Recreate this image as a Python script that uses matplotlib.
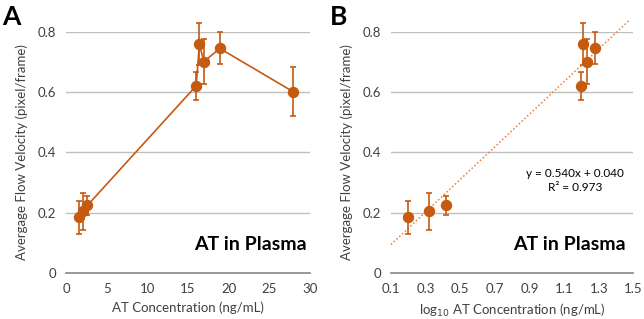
import numpy as np
import matplotlib
matplotlib.use('Agg')
import matplotlib.pyplot as plt

# Data
conc = [1.58, 2.07, 2.63, 16.0, 16.4, 16.95, 18.9, 27.9]
velocity = [0.185, 0.204, 0.224, 0.620, 0.758, 0.700, 0.744, 0.601]
err = [0.055, 0.060, 0.032, 0.047, 0.070, 0.075, 0.053, 0.080]

# panel B uses the first seven points on a log scale
log_conc = [0.20, 0.32, 0.42, 1.20, 1.21, 1.23, 1.28]
log_vel = velocity[:7]
log_err = err[:7]
slope, intercept, r2 = 0.540, 0.040, 0.973

orange = '#C55A11'
trend_color = '#ED7D31'
grid_color = '#BFBFBF'
text_color = '#404040'

plt.rcParams['font.family'] = ['Lato', 'DejaVu Sans']

fig = plt.figure(figsize=(6.44, 3.19), dpi=100)
axA = fig.add_axes([0.1025, 0.1442, 0.3789, 0.757])
axB = fig.add_axes([0.6071, 0.1442, 0.3763, 0.757])


def style_axes(ax, xticks, xlim, xlabel):
    ax.set_ylim(0, 0.8)
    ax.set_xlim(*xlim)
    ax.set_yticks([0, 0.2, 0.4, 0.6, 0.8])
    ax.set_yticklabels(['0', '0.2', '0.4', '0.6', '0.8'])
    ax.set_xticks(xticks)
    for s in ['top', 'right', 'left']:
        ax.spines[s].set_visible(False)
    ax.spines['bottom'].set_color('#868686')
    ax.spines['bottom'].set_linewidth(1.2)
    ax.tick_params(length=0, labelsize=9.5, colors=text_color, pad=7)
    for y in [0.2, 0.4, 0.6, 0.8]:
        ax.axhline(y, color=grid_color, lw=1, zorder=0)
    ax.set_ylabel('Avergage Flow Velocity (pixel/frame)', fontsize=9.5,
                  color=text_color, labelpad=7)
    ax.set_xlabel(xlabel, fontsize=9.5, color=text_color, labelpad=5)


# Panel A
style_axes(axA, [0, 5, 10, 15, 20, 25, 30], (0, 30), 'AT Concentration (ng/mL)')
axA.plot(conc, velocity, color=orange, lw=1.2, zorder=2, clip_on=False)
axA.errorbar(conc, velocity, yerr=err, fmt='o', color=orange, ms=7.2,
             ecolor=orange, elinewidth=1.2, capsize=2.5, capthick=1.2,
             zorder=3, clip_on=False)
axA.text(0.985, 0.12, 'AT in Plasma', transform=axA.transAxes, ha='right',
         va='center', fontsize=14, fontweight='bold', color='black')

# Panel B
style_axes(axB, [0.1, 0.3, 0.5, 0.7, 0.9, 1.1, 1.3, 1.5], (0.1, 1.5),
           'log$_{10}$ AT Concentration (ng/mL)')
xfit = np.array([0.1, 1.48])
axB.plot(xfit, slope * xfit + intercept, color=trend_color, lw=1.1,
         ls=(0, (1, 1.5)), zorder=2, clip_on=False)
axB.errorbar(log_conc, log_vel, yerr=log_err, fmt='o', color=orange, ms=7.2,
             ecolor=orange, elinewidth=1.2, capsize=2.5, capthick=1.2,
             zorder=3, clip_on=False)
axB.text(0.76, 0.383, 'y = %.3fx + %.3f\nR² = %.3f' % (slope, intercept, r2),
         transform=axB.transAxes, ha='center', va='center', fontsize=8.5,
         color='black', linespacing=1.35)
axB.text(0.97, 0.12, 'AT in Plasma', transform=axB.transAxes, ha='right',
         va='center', fontsize=14, fontweight='bold', color='black')

fig.text(0.003, 0.985, 'A', fontsize=19, fontweight='bold', va='top', ha='left')
fig.text(0.512, 0.985, 'B', fontsize=19, fontweight='bold', va='top', ha='left')

fig.savefig('out.png', dpi=100)
